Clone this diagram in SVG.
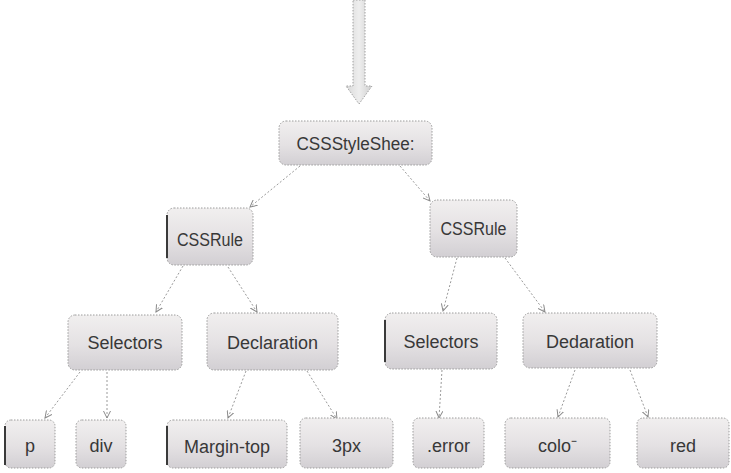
<svg xmlns="http://www.w3.org/2000/svg" width="731" height="473" viewBox="0 0 731 473">
  <defs>
    <linearGradient id="boxFill" x1="0" y1="0" x2="0" y2="1">
      <stop offset="0" stop-color="#f1efef"/>
      <stop offset="0.55" stop-color="#e4e1e3"/>
      <stop offset="1" stop-color="#d2cfd3"/>
    </linearGradient>
    <linearGradient id="shaftFill" x1="0" y1="0" x2="1" y2="0">
      <stop offset="0" stop-color="#d8d8d8"/>
      <stop offset="0.5" stop-color="#eeeeee"/>
      <stop offset="1" stop-color="#cfcfcf"/>
    </linearGradient>
    <marker id="tip" viewBox="0 0 8 8" refX="7" refY="4" markerWidth="8" markerHeight="8" orient="auto" markerUnits="userSpaceOnUse">
      <path d="M0,0.5 L7,4 L0,7.5" fill="none" stroke="#8a8a8a" stroke-width="1"/>
    </marker>
  </defs>
  <style>
    .box { fill: url(#boxFill); stroke: #9c9c9c; stroke-width: 1; stroke-dasharray: 1.5 1.5; }
    .edge { stroke: #3a3a3a; stroke-width: 2; }
    .label { font-family: "Liberation Sans", Arial, sans-serif; font-size: 18px; fill: #383838; text-anchor: middle; dominant-baseline: central; }
    .conn { fill: none; stroke: #9a9a9a; stroke-width: 1; stroke-dasharray: 2 2; marker-end: url(#tip); }
  </style>

  <rect width="731" height="473" fill="#ffffff"/>

  <!-- entry arrow pointing into the stylesheet -->
  <g id="entry-arrow">
    <path d="M353,0 L365,0 L365,86 L372,86 L359,104 L346,86 L353,86 Z" fill="url(#shaftFill)" stroke="#a0a0a0" stroke-width="1" stroke-dasharray="1.5 1.5"/>
  </g>

  <!-- connectors -->
  <g id="connectors">
    <path class="conn" d="M300,166 L250,207"/>
    <path class="conn" d="M400,166 L430,201"/>
    <path class="conn" d="M183,266 L156,312"/>
    <path class="conn" d="M228,267 L257,312"/>
    <path class="conn" d="M457,258 L443,311"/>
    <path class="conn" d="M505,258 L545,312"/>
    <path class="conn" d="M80,372 L45,418"/>
    <path class="conn" d="M107,372 L107,418"/>
    <path class="conn" d="M246,371 L228,418"/>
    <path class="conn" d="M307,371 L337,419"/>
    <path class="conn" d="M442,370 L439,418"/>
    <path class="conn" d="M575,370 L558,417"/>
    <path class="conn" d="M630,370 L648,417"/>
  </g>

  <!-- level 0 -->
  <g id="stylesheet">
    <rect class="box" x="279" y="121" width="153" height="44" rx="7"/>
    <text class="label" x="355.5" y="144" textLength="118" lengthAdjust="spacingAndGlyphs">CSSStyleShee:</text>
  </g>

  <!-- level 1 -->
  <g id="rule-left">
    <rect class="box" x="167" y="208" width="86" height="57" rx="7"/>
    <line class="edge" x1="167" y1="215" x2="167" y2="258"/>
    <text class="label" x="210" y="240" textLength="66" lengthAdjust="spacingAndGlyphs">CSSRule</text>
  </g>
  <g id="rule-right">
    <rect class="box" x="430" y="200" width="87" height="57" rx="7"/>
    <text class="label" x="473.5" y="229" textLength="66" lengthAdjust="spacingAndGlyphs">CSSRule</text>
  </g>

  <!-- level 2 -->
  <g id="selectors-left">
    <rect class="box" x="68" y="315" width="114" height="55" rx="7"/>
    <text class="label" x="125" y="343">Selectors</text>
  </g>
  <g id="declaration-left">
    <rect class="box" x="207" y="313" width="131" height="57" rx="7"/>
    <text class="label" x="272.5" y="343">Declaration</text>
  </g>
  <g id="selectors-right">
    <rect class="box" x="385" y="313" width="112" height="56" rx="7"/>
    <line class="edge" x1="385" y1="320" x2="385" y2="362"/>
    <text class="label" x="441" y="342">Selectors</text>
  </g>
  <g id="declaration-right">
    <rect class="box" x="523" y="313" width="134" height="55" rx="7"/>
    <text class="label" x="590" y="342">Dedaration</text>
  </g>

  <!-- level 3 -->
  <g id="value-p">
    <rect class="box" x="5" y="420" width="50" height="48" rx="6"/>
    <line class="edge" x1="5" y1="426" x2="5" y2="465"/>
    <text class="label" x="30" y="446">p</text>
  </g>
  <g id="value-div">
    <rect class="box" x="76" y="420" width="50" height="48" rx="6"/>
    <text class="label" x="101" y="446">div</text>
  </g>
  <g id="value-margin-top">
    <rect class="box" x="167" y="420" width="120" height="48" rx="6"/>
    <line class="edge" x1="167" y1="426" x2="167" y2="465"/>
    <text class="label" x="227" y="447">Margin-top</text>
  </g>
  <g id="value-3px">
    <rect class="box" x="300" y="418" width="93" height="50" rx="6"/>
    <text class="label" x="346.5" y="446">3px</text>
  </g>
  <g id="value-error">
    <rect class="box" x="413" y="418" width="71" height="50" rx="6"/>
    <text class="label" x="448.5" y="446">.error</text>
  </g>
  <g id="value-color">
    <rect class="box" x="505" y="418" width="105" height="50" rx="6"/>
    <text class="label" x="557.5" y="446">colo⁻</text>
  </g>
  <g id="value-red">
    <rect class="box" x="637" y="418" width="92" height="50" rx="6"/>
    <text class="label" x="683" y="446">red</text>
  </g>
</svg>
